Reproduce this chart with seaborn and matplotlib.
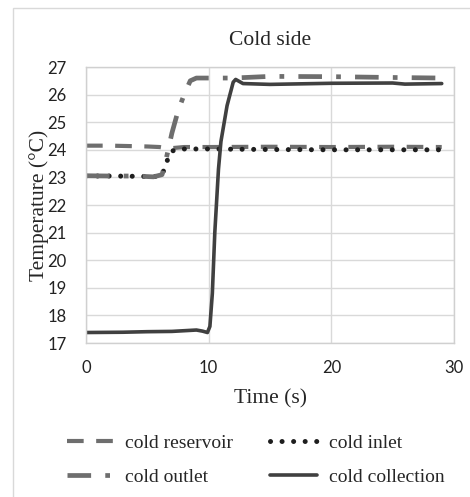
import numpy as np
import pandas as pd
import matplotlib.pyplot as plt
import seaborn as sns
from matplotlib.patches import Rectangle

# Values
t_reservoir = [0, 2, 4, 5, 6, 6.5, 7, 8, 10, 15, 20, 25, 29]
T_reservoir = [24.15, 24.15, 24.13, 24.12, 24.1, 24.06, 24.06, 24.1, 24.1, 24.11, 24.1, 24.11, 24.1]

t_inlet = [0, 2, 4, 5.5, 6.2, 6.5, 7.0, 7.5, 10, 15, 20, 25, 29]
T_inlet = [23.05, 23.05, 23.04, 23.03, 23.06, 23.5, 23.95, 24.03, 24.03, 24.01, 24.0, 24.0, 24.0]

t_outlet = [0, 2, 4, 5.5, 6.2, 6.5, 7.0, 7.5, 8.0, 8.5, 9, 10, 12, 15, 20, 25, 29]
T_outlet = [23.06, 23.05, 23.05, 23.02, 23.1, 23.6, 24.6, 25.4, 26.0, 26.5, 26.6, 26.6, 26.6, 26.66, 26.65, 26.62, 26.6]

t_collection = [0, 3, 5, 7, 9, 9.5, 9.9, 10.1, 10.3, 10.5, 10.8, 11.0, 11.5, 12.0, 12.2, 12.8, 15, 20, 25, 26, 29]
T_collection = [17.38, 17.39, 17.41, 17.42, 17.47, 17.43, 17.38, 17.6, 18.8, 21.0, 23.3, 24.3, 25.6, 26.45, 26.55, 26.4, 26.37, 26.41, 26.42, 26.38, 26.4]

labels = ['cold reservoir', 'cold inlet', 'cold outlet', 'cold collection']

sns.set_style('white')
plt.rcParams['font.family'] = ['Liberation Serif', 'DejaVu Serif']

fig = plt.figure(figsize=(4.7, 4.97), dpi=100)
ax = fig.add_axes([86 / 470, 1 - 343 / 497, (454 - 86) / 470, (343 - 67) / 497])

# outer chart border
fig.patches.append(Rectangle((13 / 470, -0.1), 1.2, 1.1 - 8 / 497, transform=fig.transFigure,
                             fill=False, edgecolor='#d9d9d9', lw=1.0))

sns.lineplot(x=t_reservoir, y=T_reservoir, ax=ax, color='#6e6e6e', lw=3,
             linestyle=(0, (4, 3)), label=labels[0])
sns.lineplot(x=t_inlet, y=T_inlet, ax=ax, color='#1e1e1e', lw=3.6,
             linestyle=(0, (0.01, 2.3)), dash_capstyle='round', label=labels[1])
sns.lineplot(x=t_outlet, y=T_outlet, ax=ax, color='#6e6e6e', lw=3.4,
             linestyle=(0, (5, 3, 1, 3)), label=labels[2])
sns.lineplot(x=t_collection, y=T_collection, ax=ax, color='#404040', lw=2.6,
             label=labels[3])

ax.set_xlim(0, 30)
ax.set_ylim(17, 27)
ax.set_xticks([0, 10, 20, 30])
ax.set_yticks(range(17, 28))
ax.grid(True, color='#d9d9d9', lw=1.0)
ax.set_axisbelow(True)
for s in ax.spines.values():
    s.set_color('#d0d0d0')
    s.set_linewidth(1.0)
ax.tick_params(axis='x', length=0, pad=12)
ax.tick_params(axis='y', length=0, pad=14)
for lab in ax.get_xticklabels() + ax.get_yticklabels():
    lab.set_fontfamily(['Lato', 'DejaVu Sans'])
    lab.set_fontsize(12)
    lab.set_color('#222222')

ax.set_title('Cold side', fontsize=15.5, pad=16)
ax.set_xlabel('Time (s)', fontsize=15.5, labelpad=10)
ax.set_ylabel('Temperature (°C)', fontsize=15.5, labelpad=-1)

# legend fills column-wise: reservoir, outlet | inlet, collection
handles, labs = ax.get_legend_handles_labels()
order = [0, 2, 1, 3]
ax.legend([handles[i] for i in order], [labs[i] for i in order],
          loc='upper left', bbox_to_anchor=(67 / 470, 1 - 434 / 497),
          bbox_transform=fig.transFigure, ncol=2, frameon=False, fontsize=14,
          handlelength=2.4, handletextpad=0.6, columnspacing=1.9, labelspacing=0.85,
          borderaxespad=0, borderpad=0)

fig.savefig('out.png', dpi=100)
